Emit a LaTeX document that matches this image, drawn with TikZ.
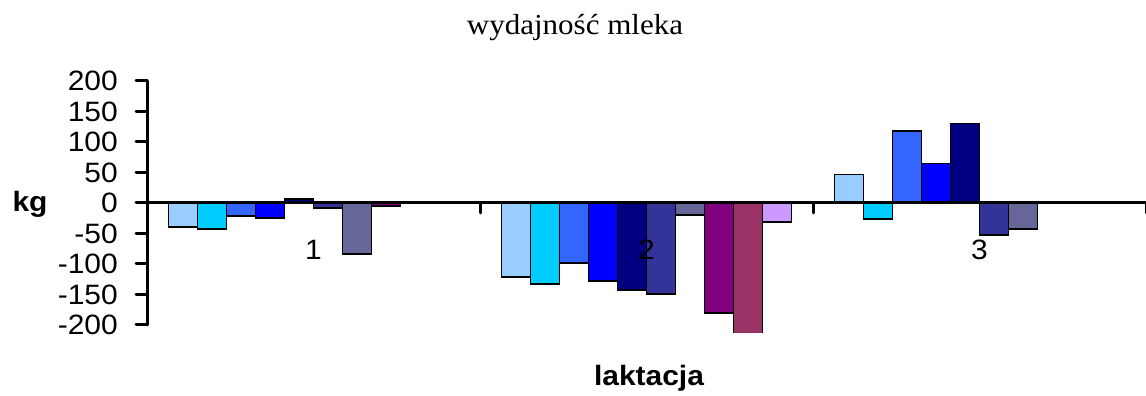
\documentclass[tikz,border=0pt]{standalone}
\usepackage{fontspec}
\setmainfont{Liberation Serif}[FakeStretch=1.07]
\newfontfamily\arialfont{Liberation Sans}[FakeStretch=1.07]
\definecolor{ser1}{HTML}{99CCFF}
\definecolor{ser2}{HTML}{00CCFF}
\definecolor{ser3}{HTML}{3366FF}
\definecolor{ser4}{HTML}{0000FF}
\definecolor{ser5}{HTML}{000080}
\definecolor{ser6}{HTML}{333399}
\definecolor{ser7}{HTML}{666699}
\definecolor{ser8}{HTML}{800080}
\definecolor{ser9}{HTML}{993366}
\definecolor{ser10}{HTML}{CC99FF}

\begin{document}
\begin{tikzpicture}[x=1pt, y=1pt]
\tikzstyle{barbox}=[draw=black, line width=1.6pt]
\tikzstyle{axisline}=[black, line width=3pt, line cap=round]
\tikzstyle{ticklabel}=[font=\arialfont\fontsize{28}{32}\selectfont, inner sep=0pt]
\useasboundingbox (0,0) rectangle (1146,396);

\begin{scope}[shift={(147,193)}, y=0.61pt]
\begin{scope}
\clip (-100,-213) rectangle (1000,250);
% Laktacja 1
\foreach \i/\v in {1/-39,2/-43,3/-21,4/-25,5/7,6/-8,7/-84,8/-5}
\draw [barbox, fill=ser\i] (29*\i-7.5, 0) rectangle ++(29, \v);

% Laktacja 2
\foreach \i/\v in {1/-121,2/-133,3/-98,4/-128,5/-143,6/-149,7/-20,8/-180,9/-240,10/-31}
\draw [barbox, fill=ser\i] (333+29*\i-7.5, 0) rectangle ++(29, \v);

% Laktacja 3
\foreach \i/\v in {1/47,2/-26,3/118,4/65,5/130,6/-52,7/-43}
\draw [barbox, fill=ser\i] (666+29*\i-7.5, 0) rectangle ++(29, \v);
\end{scope}

% Axes
\draw [axisline] (0,200) -- (0,-200);
\foreach \v in {-200,-150,...,200}
\draw [axisline] (0,\v) -- ++(-11pt,0pt);
\draw [axisline] (0,0) -- (999,0);
\foreach \x in {333,666,999}
\draw [axisline] (\x,0) -- ++(0pt,-10pt);

% Tick labels
\foreach \v [count=\k] in {200,150,...,-200}
\node [ticklabel, anchor=east] (ytick_\k) at (-29,\v) {\v};
\foreach \c in {1,2,3}
\node [ticklabel] (cat_\c) at (333*\c-166.5, -77) {\c};
\end{scope}

% Text
\node [font=\fontsize{29}{32}\selectfont, anchor=base] (title) at (575,361) {wydajność mleka};
\node [ticklabel, font=\arialfont\bfseries\fontsize{28}{32}\selectfont, anchor=base] (ylabel) at (30,184) {kg};
\node [ticklabel, font=\arialfont\bfseries\fontsize{28}{32}\selectfont, anchor=base] (xlabel) at (649,10) {laktacja};
\end{tikzpicture}
\end{document}
